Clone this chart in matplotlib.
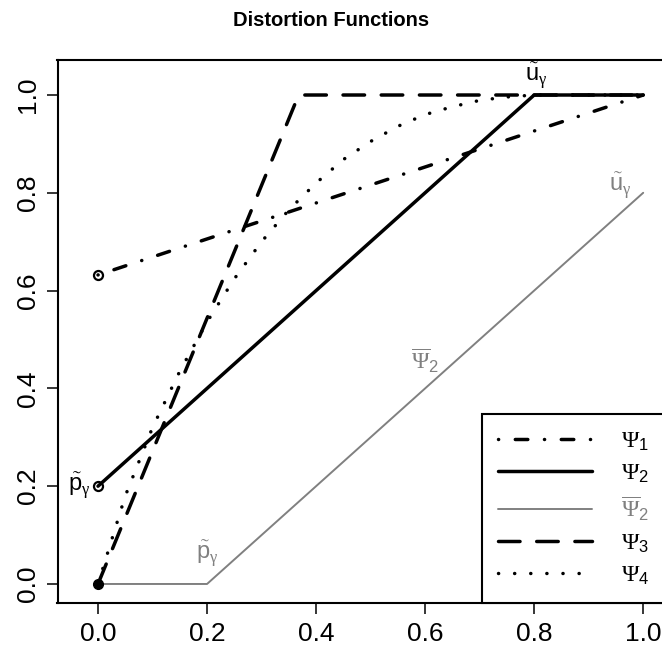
import matplotlib
matplotlib.use("Agg")
import matplotlib.pyplot as plt
import numpy as np

plt.rcParams['font.family'] = ['Liberation Sans', 'DejaVu Sans']
plt.rcParams['mathtext.fontset'] = 'custom'
plt.rcParams['mathtext.rm'] = 'Liberation Serif'
plt.rcParams['mathtext.sf'] = 'Liberation Sans'
plt.rcParams['mathtext.it'] = 'Liberation Sans:italic'
plt.rcParams['lines.scale_dashes'] = False

# data
u_psi1 = [0.0, 1.0]
psi1 = [0.632, 1.0]
u_psi2 = [0.0, 0.8, 1.0]
psi2 = [0.2, 1.0, 1.0]
u_psi2bar = [0.0, 0.2, 1.0]
psi2bar = [0.0, 0.0, 0.8]
u_psi3 = [0.0, 0.368, 1.0]
psi3 = [0.0, 1.0, 1.0]
u_psi4 = [0.0, 0.05, 0.1, 0.15, 0.2, 0.25, 0.3, 0.35, 0.4, 0.45, 0.5,
          0.55, 0.6, 0.65, 0.7, 0.75, 0.8, 1.0]
psi4 = [0.0, 0.18, 0.32, 0.435, 0.536, 0.624, 0.70, 0.765, 0.82, 0.868,
        0.905, 0.936, 0.96, 0.976, 0.989, 0.996, 1.0, 1.0]

labels = [r'$\Psi_\mathsf{1}$', r'$\Psi_\mathsf{2}$',
          r'$\overline{\Psi}_\mathsf{2}$', r'$\Psi_\mathsf{3}$',
          r'$\Psi_\mathsf{4}$']
ticks = [0, 0.2, 0.4, 0.6, 0.8, 1.0]
tick_labels = ['0.0', '0.2', '0.4', '0.6', '0.8', '1.0']
gray = '#808080'

fig = plt.figure(figsize=(6.62, 6.5), dpi=100)
ax = fig.add_axes([57.5/662, 47/650, 607.5/662, 543/650])

lw = 2.5
l2b, = ax.plot(u_psi2bar, psi2bar, color=gray, lw=1.4, solid_capstyle='round')
l4, = ax.plot(u_psi4, psi4, color='black', lw=lw, dashes=(0.1, 11.5),
              dash_capstyle='round')
l3, = ax.plot(u_psi3, psi3, color='black', lw=lw, dashes=(15.5, 12),
              dash_capstyle='round')
l1, = ax.plot(u_psi1, psi1, color='black', lw=lw,
              dashes=(0.1, 12, 9, 12), dash_capstyle='round')
l2, = ax.plot(u_psi2, psi2, color='black', lw=lw, solid_capstyle='round')

ax.plot([0], [0], 'o', color='black', ms=7)
ax.plot([0, 0], [psi1[0], psi2[0]], 'o', ls='none', mfc='none',
        mec='black', mew=1.6, ms=6.5)

fs = 17
pg = r'$\tilde{\mathsf{p}}_{\mathrm{\gamma}}$'
ug = r'$\tilde{\mathsf{u}}_{\mathrm{\gamma}}$'
ax.text(-0.015, 0.2, pg, ha='right', va='center', fontsize=fs)
ax.text(0.803, 1.008, ug, ha='center', va='bottom', fontsize=fs)
ax.text(0.2, 0.062, pg, ha='center', va='center', fontsize=fs, color=gray)
ax.text(0.958, 0.815, ug, ha='center', va='center', fontsize=fs, color=gray)
ax.text(0.6, 0.456, r'$\overline{\Psi}_\mathsf{2}$', ha='center', va='center',
        fontsize=fs, color=gray)

ax.set_xlim(-0.0743, 1.040)
ax.set_ylim(-0.0389, 1.0716)
ax.set_xticks(ticks)
ax.set_yticks(ticks)
ax.set_xticklabels(tick_labels)
ax.set_yticklabels(tick_labels, rotation=90, va='center')
ax.tick_params(labelsize=19, length=7.6, width=1.1, pad=5)
ax.tick_params(axis='x', pad=6)
for s in ax.spines.values():
    s.set_linewidth(1.5)

leg = ax.legend([l1, l2, l2b, l3, l4], labels, loc='lower right',
                borderaxespad=0, fontsize=fs, fancybox=False,
                edgecolor='black', framealpha=1, handlelength=4.0,
                handletextpad=1.2, borderpad=0.68, labelspacing=0.39)
leg.get_frame().set_linewidth(1.5)
leg.get_texts()[2].set_color(gray)

fig.suptitle('Distortion Functions', x=0.5, y=1 - 20/650, va='center',
             fontsize=14.5, fontweight='bold')

fig.savefig('out.png', dpi=100)
